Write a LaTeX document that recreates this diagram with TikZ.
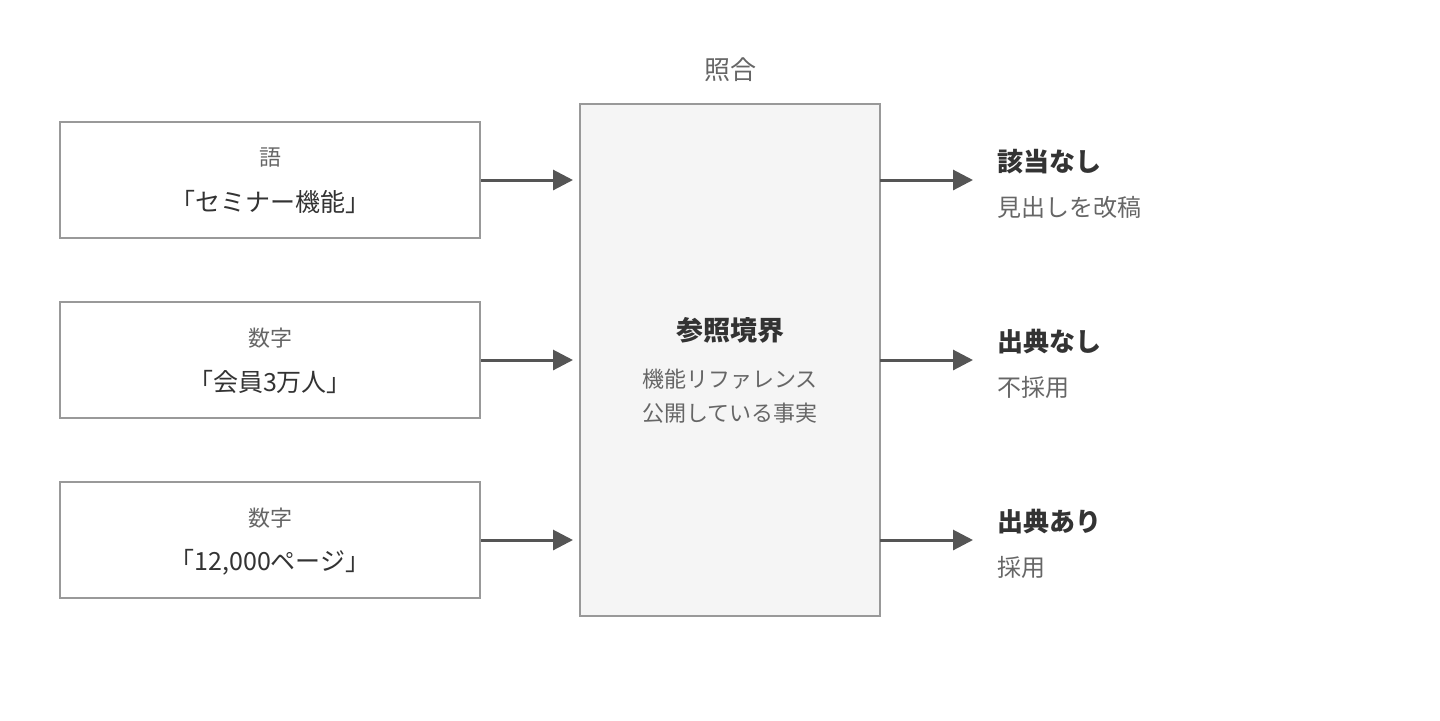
\documentclass[tikz,border=0pt]{standalone}
\usepackage{fontspec}
\setmainfont{Noto Sans CJK JP}
\newfontfamily\jpb{Noto Sans CJK JP Bold}
\usetikzlibrary{arrows.meta}
\definecolor{bd}{HTML}{999999}
\definecolor{tx}{HTML}{333333}
\definecolor{sm}{HTML}{666666}
\definecolor{ar}{HTML}{555555}
\definecolor{fl}{HTML}{F5F5F5}
\begin{document}
\begin{tikzpicture}[x=0.5pt,y=-0.5pt,
 box/.style={draw=bd,line width=1pt,minimum width=210pt,minimum height=58pt,inner sep=0},
 small/.style={text=sm,font=\fontsize{11}{13}\selectfont},
 main/.style={text=tx,font=\fontsize{12.5}{15}\selectfont},
 bold/.style={text=tx,font=\fontsize{13}{15}\selectfont\bfseries,anchor=west},
 sub/.style={text=sm,font=\fontsize{12}{15}\selectfont,anchor=west},
 arr/.style={draw=ar,line width=1.5pt,-{Triangle[length=10pt,width=10pt]}}]
\useasboundingbox (0,0) rectangle (1440,720);
\node[box] (a) at (270,180) {};
\node[box] (b) at (270,360) {};
\node[box] (c) at (270,540) {};
\node[small] (a1) at (270,158) {語};
\node[main] (a2) at (270,202) {「セミナー機能」};
\node[small] (b1) at (270,338) {数字};
\node[main] (b2) at (270,382) {「会員3万人」};
\node[small] (c1) at (270,518) {数字};
\node[main] (c2) at (270,562) {「12,000ページ」};
\node[draw=bd,fill=fl,line width=1pt,minimum width=150pt,minimum height=256pt,inner sep=0] (m) at (730,360) {};
\node[text=sm,font=\fontsize{13}{15}\selectfont] (t) at (730,70) {照合};
\node[text=tx,font=\fontsize{13.5}{15}\selectfont\bfseries] (m1) at (730,330) {参照境界};
\node[small] (m2) at (730,379) {機能リファレンス};
\node[small] (m3) at (730,413) {公開している事実};
\coordinate (ma) at (580,180); \coordinate (mb) at (580,360); \coordinate (mc) at (580,540);
\coordinate (na) at (880,180); \coordinate (nb) at (880,360); \coordinate (nc) at (880,540);
\coordinate (ra) at (973,180); \coordinate (rb) at (973,360); \coordinate (rc) at (973,540);
\draw[arr] (a.east) -- ([xshift=-3.5pt]ma);
\draw[arr] (b.east) -- ([xshift=-3.5pt]mb);
\draw[arr] (c.east) -- ([xshift=-3.5pt]mc);
\draw[arr] (na) -- (ra);
\draw[arr] (nb) -- (rb);
\draw[arr] (nc) -- (rc);
\node[bold] (r1) at (990,162) {該当なし};
\node[sub] (s1) at (990,207) {見出しを改稿};
\node[bold] (r2) at (990,342) {出典なし};
\node[sub] (s2) at (990,387) {不採用};
\node[bold] (r3) at (990,522) {出典あり};
\node[sub] (s3) at (990,567) {採用};
\end{tikzpicture}
\end{document}
